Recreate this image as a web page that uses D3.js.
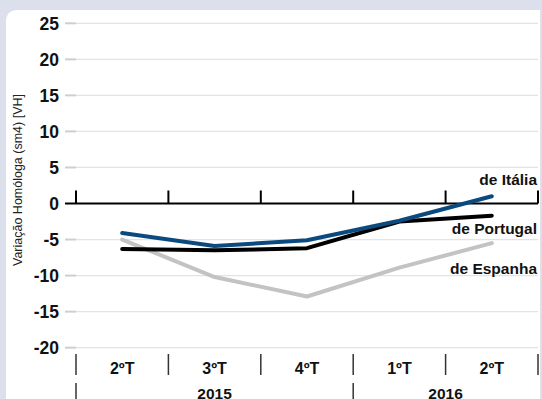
<!DOCTYPE html>
<html>
<head>
<meta charset="utf-8">
<script src="https://cdn.jsdelivr.net/npm/d3@7"></script>
<style>
  html, body { margin: 0; padding: 0; background: #dbe0ec; }
  svg { display: block; }
  text { font-family: "Liberation Sans", Arial, Helvetica, sans-serif; }
</style>
</head>
<body>
<svg id="chart" width="542" height="399"></svg>
<script>
// Quarters and their years
const quarters = ["2ºT", "3ºT", "4ºT", "1ºT", "2ºT"];
const years = [{ label: "2015", from: 0, to: 3 }, { label: "2016", from: 3, to: 5 }];
const yTicks = [-20, -15, -10, -5, 0, 5, 10, 15, 20, 25];

// Year-on-year change (sm4), %
const portugal = [-6.3, -6.5, -6.2, -2.5, -1.7];
const italia   = [-4.1, -5.9, -5.1, -2.4, 1.0];
const espanha  = [-5.0, -10.2, -12.9, -8.9, -5.5];

const series = [
  { name: "de Espanha",  values: espanha,  color: "#c2c3c5", labelY: -8.95 },
  { name: "de Portugal", values: portugal, color: "#000000", labelY: -3.5 },
  { name: "de Itália",   values: italia,   color: "#0b4a7e", labelY: 3.3 }
];

const svg = d3.select("#chart");
const W = 542, H = 399;

// White panel with rounded top-left corner
svg.append("path")
  .attr("d", `M6,${H} L6,22 Q6,10 18,10 L540,10 L540,${H} Z`)
  .attr("fill", "#ffffff");

const left = 76, right = 538;
const y = d3.scaleLinear().domain([0, 25]).range([203.5, 23.3]);
const x = d3.scaleBand().domain(d3.range(quarters.length)).range([left, right]);
const cx = i => x(i) + x.bandwidth() / 2;

// Horizontal gridlines with their short darker ticks
const grid = svg.append("g");
yTicks.filter(v => v !== 0).forEach(v => {
  grid.append("line").attr("x1", 76).attr("x2", right)
    .attr("y1", y(v)).attr("y2", y(v))
    .attr("stroke", "#e3e3e3").attr("stroke-width", 1.2);
  grid.append("line").attr("x1", 65).attr("x2", 76)
    .attr("y1", y(v)).attr("y2", y(v))
    .attr("stroke", "#cfcfcf").attr("stroke-width", 2);
});

// Tick labels on the y axis
svg.append("g").selectAll("text").data(yTicks).join("text")
  .attr("x", 59).attr("y", d => y(d))
  .attr("dy", "0.36em")
  .attr("text-anchor", "end")
  .attr("font-size", 17.5).attr("font-weight", "bold").attr("fill", "#111")
  .text(d => d);

// Axis title
svg.append("text")
  .attr("transform", `translate(22,180) rotate(-90)`)
  .attr("text-anchor", "middle")
  .attr("font-size", 12.5).attr("fill", "#222")
  .text("Variação Homóloga (sm4) [VH]");

// Zero line with upward boundary ticks
svg.append("line").attr("x1", 65).attr("x2", right)
  .attr("y1", y(0)).attr("y2", y(0))
  .attr("stroke", "#000").attr("stroke-width", 2);
d3.range(quarters.length + 1).forEach(i => {
  const xx = i < quarters.length ? x(i) : right;
  svg.append("line").attr("x1", xx).attr("x2", xx)
    .attr("y1", y(0)).attr("y2", y(0) - 13)
    .attr("stroke", "#000").attr("stroke-width", 2);
});

// Lines
const line = d3.line().x((d, i) => cx(i)).y(d => y(d));
series.forEach(s => {
  svg.append("path").datum(s.values)
    .attr("d", line)
    .attr("fill", "none")
    .attr("stroke", s.color)
    .attr("stroke-width", 4)
    .attr("stroke-linecap", "round")
    .attr("stroke-linejoin", "round");
  svg.append("text")
    .attr("x", 537).attr("y", y(s.labelY))
    .attr("dy", "0.36em")
    .attr("text-anchor", "end")
    .attr("font-size", 15.5).attr("font-weight", "bold").attr("fill", "#111")
    .text(s.name);
});

// Quarter labels and dividers
svg.append("g").selectAll("text").data(quarters).join("text")
  .attr("x", (d, i) => cx(i)).attr("y", 368.5)
  .attr("dy", "0.36em")
  .attr("text-anchor", "middle")
  .attr("font-size", 16).attr("font-weight", "bold").attr("fill", "#111")
  .text(d => d);
d3.range(quarters.length + 1).forEach(i => {
  const xx = i < quarters.length ? x(i) : right;
  svg.append("line").attr("x1", xx).attr("x2", xx)
    .attr("y1", 354).attr("y2", 375)
    .attr("stroke", "#333").attr("stroke-width", 1.5);
});

// Year labels and dividers
years.forEach(yr => {
  const x0 = x(yr.from);
  const x1 = yr.to < quarters.length ? x(yr.to) : right;
  svg.append("text")
    .attr("x", (x0 + x1) / 2).attr("y", 393)
    .attr("dy", "0.36em")
    .attr("text-anchor", "middle")
    .attr("font-size", 15.5).attr("font-weight", "bold").attr("fill", "#111")
    .text(yr.label);
  svg.append("line").attr("x1", x0).attr("x2", x0)
    .attr("y1", 383).attr("y2", H)
    .attr("stroke", "#333").attr("stroke-width", 1.5);
});
</script>
</body>
</html>
